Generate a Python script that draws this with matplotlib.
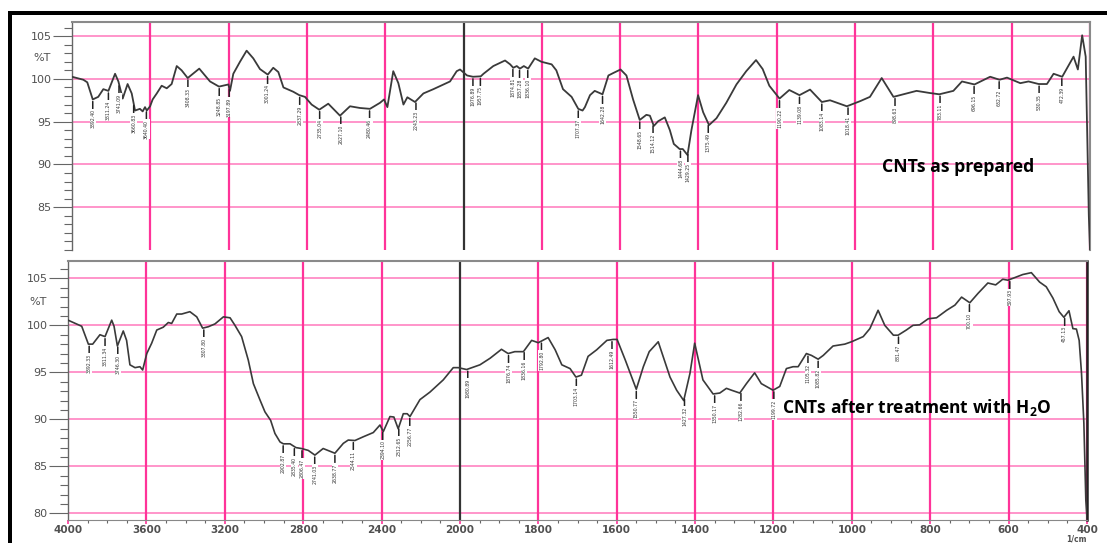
import numpy as np
import matplotlib
matplotlib.use("Agg")
import matplotlib.pyplot as plt
from matplotlib.patches import Rectangle

plt.rcParams['mathtext.fontset'] = 'custom'
plt.rcParams['mathtext.rm'] = 'Open Sans:bold'

# ---------------- data ----------------
top_wn = [4000, 3942, 3922, 3894, 3866, 3840, 3814, 3780, 3763, 3741, 3716, 3695, 3678, 3653, 3639,
          3627, 3618, 3601, 3588, 3567, 3542, 3516, 3491, 3465, 3440, 3409, 3350, 3295, 3249, 3201,
          3193, 3176, 3142, 3108, 3074, 3040, 3000, 2972, 2946, 2920, 2870, 2839, 2810, 2776, 2737,
          2691, 2631, 2580, 2529, 2478, 2427, 2406, 2389, 2359, 2333, 2307, 2287, 2248, 2205, 2154,
          2069, 2035, 2018, 1991, 1976, 1956, 1949, 1924, 1894, 1881, 1873, 1864, 1856, 1846, 1835,
          1818, 1801, 1775, 1763, 1746, 1724, 1707, 1696, 1690, 1677, 1665, 1645, 1630, 1617, 1599,
          1584, 1567, 1550, 1533, 1524, 1514, 1503, 1486, 1473, 1463, 1448, 1440, 1428, 1418, 1401,
          1388, 1373, 1354, 1329, 1303, 1278, 1253, 1236, 1219, 1193, 1168, 1142, 1115, 1085, 1064,
          1021, 987, 962, 932, 902, 843, 809, 785, 749, 727, 695, 655, 631, 612, 578, 557, 531, 510,
          493, 471, 442, 431, 420, 411, 403, 400]
top_val = [100.25, 99.9, 99.6, 97.6, 97.9, 98.8, 98.6, 100.6, 99.7, 97.7, 99.4, 98.3, 96.3, 96.5, 96.2,
           96.7, 96.3, 96.8, 97.6, 98.3, 99.2, 98.9, 99.4, 101.5, 101.0, 100.1, 101.2, 99.7, 99.1, 99.35,
           98.6, 100.6, 102.0, 103.3, 102.4, 101.15, 100.5, 101.3, 100.8, 99.0, 98.5, 98.1, 97.9, 97.0, 96.4,
           97.1, 95.7, 96.8, 96.6, 96.5, 97.2, 97.6, 96.7, 100.9, 99.5, 97.0, 97.85, 97.3, 98.3, 98.8,
           99.7, 100.9, 101.1, 100.4, 100.25, 100.3, 100.6, 101.5, 102.15, 101.7, 101.3, 101.5, 101.2, 101.5, 101.2,
           102.4, 102.0, 101.7, 101.0, 98.8, 97.9, 96.5, 96.3, 96.7, 98.1, 98.6, 98.2, 100.4, 100.7, 101.1,
           100.4, 97.6, 95.2, 95.8, 95.7, 94.5, 95.05, 95.5, 94.0, 92.4, 91.8, 91.8, 91.1, 94.0, 98.1,
           96.1, 94.6, 95.4, 97.2, 99.35, 100.9, 102.2, 101.15, 99.2, 97.7, 98.7, 98.1, 98.75, 97.3, 97.5,
           96.8, 97.4, 97.9, 100.1, 97.9, 98.6, 98.35, 98.2, 98.6, 99.7, 99.35, 100.25, 99.9, 100.15, 99.5, 99.7, 99.4, 99.4,
           100.6, 100.25, 102.6, 101.1, 105.1, 102.6, 84.0, 80.0]

bot_wn = [4000, 3973, 3930, 3896, 3874, 3837, 3811, 3777, 3765, 3748, 3718, 3701, 3684, 3658, 3633,
          3619, 3598, 3573, 3547, 3514, 3488, 3471, 3445, 3420, 3378, 3343, 3313, 3284, 3250, 3207,
          3173, 3148, 3114, 3080, 3054, 3020, 2995, 2966, 2944, 2918, 2901, 2867, 2837, 2808, 2774,
          2740, 2698, 2638, 2595, 2570, 2536, 2493, 2442, 2408, 2391, 2357, 2337, 2315, 2289, 2269,
          2255, 2204, 2153, 2085, 2034, 2008, 1983, 1949, 1923, 1894, 1877, 1860, 1838, 1817, 1800,
          1775, 1757, 1740, 1719, 1704, 1690, 1673, 1651, 1625, 1609, 1599, 1578, 1550, 1532, 1517,
          1494, 1464, 1447, 1429, 1413, 1401, 1380, 1354, 1337, 1320, 1307, 1286, 1269, 1248, 1231,
          1201, 1184, 1167, 1150, 1137, 1116, 1103, 1086, 1073, 1048, 1018, 1001, 971, 954, 933,
          916, 894, 882, 861, 844, 827, 805, 784, 758, 737, 720, 699, 678, 653, 633,
          615, 602, 589, 564, 542, 521, 504, 487, 471, 459, 446, 436, 427, 420, 414,
          408, 403, 400]
bot_val = [100.55, 100.3, 99.9, 98.0, 98.0, 99.0, 98.8, 100.55, 99.9, 97.8, 99.4, 98.4, 95.8, 95.5, 95.6,
           95.25, 97.0, 98.1, 99.5, 99.8, 100.3, 100.2, 101.2, 101.2, 101.45, 100.9, 99.7, 99.85, 100.15, 100.9,
           100.8, 100.0, 98.8, 96.3, 93.8, 92.05, 90.8, 89.9, 88.5, 87.6, 87.4, 87.4, 87.0, 86.9, 86.7,
           86.2, 86.9, 86.4, 87.45, 87.8, 87.75, 88.15, 88.6, 89.4, 88.7, 90.3, 90.25, 89.0, 90.6, 90.6,
           90.3, 92.1, 92.9, 94.2, 95.5, 95.5, 95.3, 95.8, 96.5, 97.45, 97.0, 97.2, 97.2, 98.4, 98.15,
           98.7, 97.4, 95.8, 95.4, 94.5, 94.7, 96.7, 97.4, 98.4, 98.5, 98.5, 96.3, 93.2, 95.6, 97.2,
           98.25, 94.5, 93.1, 92.0, 94.9, 98.1, 94.2, 92.7, 92.8, 93.3, 93.1, 92.8, 93.8, 94.95, 93.8,
           93.1, 93.5, 95.4, 95.6, 95.6, 97.0, 96.8, 96.4, 96.8, 97.8, 98.0, 98.25, 98.8, 99.65, 101.6,
           100.0, 98.95, 98.95, 99.5, 100.0, 100.05, 100.7, 100.8, 101.6, 102.15, 103.0, 102.4, 103.4, 104.5, 104.3,
           104.9, 104.8, 105.0, 105.4, 105.6, 104.6, 104.1, 102.9, 101.45, 100.85, 101.55, 99.65, 99.6, 98.4, 94.9,
           89.6, 81.4, 79.5]

top_peak_wn = [3894, 3814, 3760, 3685, 3620, 3408, 3248, 3197, 3001, 2837, 2735, 2627, 2480, 2243,
               1976, 1957, 1874, 1857, 1836, 1707, 1645, 1550, 1516, 1446, 1427, 1375, 1193, 1142,
               1085, 1018, 898, 783, 696, 632, 530, 472]
top_peak_lbl = ['3892.40', '3811.24', '3741.09', '3660.83', '3640.40', '3408.33', '3248.85', '3197.89',
                '3001.24', '2837.29', '2735.04', '2627.10', '2480.46', '2243.23', '1976.89', '1957.75',
                '1874.81', '1857.28', '1836.10', '1707.37', '1642.28', '1548.65', '1514.12', '1444.68',
                '1429.25', '1375.49', '1190.22', '1139.08', '1083.14', '1018.41', '898.63', '783.11',
                '696.15', '632.72', '530.35', '472.39']

bot_peak_wn = [3892, 3811, 3746, 3307, 2902, 2845, 2806, 2741, 2638, 2544, 2394, 2312, 2256, 1980,
               1876, 1836, 1792, 1703, 1612, 1550, 1427, 1350, 1283, 1199, 1112, 1086, 881, 700,
               597, 457]
bot_peak_lbl = ['3892.33', '3811.34', '3746.30', '3307.80', '2902.87', '2835.40', '2806.47', '2741.03',
                '2638.77', '2544.11', '2394.10', '2312.65', '2256.77', '1980.89', '1876.74', '1836.16',
                '1792.80', '1703.14', '1612.49', '1550.77', '1427.32', '1350.17', '1282.66', '1199.72',
                '1105.32', '1085.82', '881.47', '700.10', '597.93', '457.13']

x_major = [4000, 3600, 3200, 2800, 2400, 2000, 1800, 1600, 1400, 1200, 1000, 800, 600, 400]
x_major_lbl = [str(v) for v in x_major]
y_major = [80, 85, 90, 95, 100, 105]

# ---------------- scale ----------------
def fwd(w):
    w = np.asarray(w, dtype=float)
    return np.where(w >= 2000, (w - 2000) / 400.0, (w - 2000) / 200.0)

def inv(p):
    p = np.asarray(p, dtype=float)
    return np.where(p >= 0, 2000 + 400.0 * p, 2000 + 200.0 * p)

W, H = 1107, 543
fig = plt.figure(figsize=(W / 100, H / 100), dpi=100)

ax1 = fig.add_axes([72 / W, 1 - 250 / H, 1018 / W, 228 / H])
ax2 = fig.add_axes([68 / W, 1 - 520 / H, 1019 / W, 259 / H])

VCOL = '#ff3399'
HCOL = '#ff8cc6'
TXT = '#505050'

for ax, ylim in ((ax1, (82.06, 106.65)), (ax2, (79.3, 106.84))):
    ax.set_xscale('function', functions=(fwd, inv))
    ax.set_xlim(4000, 400)
    ax.set_ylim(*ylim)
    for v in y_major:
        if ylim[0] < v < ylim[1]:
            ax.axhline(v, color=HCOL, lw=1.3, zorder=1)
    for w in x_major[1:]:
        ax.axvline(w, color=('#333333' if w == 2000 else VCOL), lw=1.6, zorder=1.5)
    ax.set_yticks([v for v in y_major if ylim[0] < v < ylim[1]])
    ax.set_yticks(np.arange(80, 107, 1), minor=True)
    ax.tick_params(axis='y', which='major', length=13.5, width=0.8, color='#666666',
                   labelsize=8, labelcolor=TXT, pad=1)
    ax.tick_params(axis='y', which='minor', length=6, width=0.8, color='#666666')
    ax.spines['top'].set_color('#8a8a8a')
    ax.spines['top'].set_linewidth(1.5)
    ax.spines['left'].set_color('#666666')
    ax.spines['left'].set_linewidth(1.0)
    ax.annotate('%T', xy=(0, 102.5), xycoords=('axes fraction', 'data'),
                xytext=(-21, 0), textcoords='offset pixels', ha='right', va='center',
                fontsize=8, color=TXT)

# top panel
ax1.spines['bottom'].set_visible(False)
ax1.spines['right'].set_color('#8a8a8a')
ax1.spines['right'].set_linewidth(1.5)
ax1.tick_params(axis='x', which='both', bottom=False, labelbottom=False)
ax1.plot(top_wn, top_val, color='#3a3a3a', lw=1.3, zorder=3)

# bottom panel
ax2.spines['bottom'].set_color('#888888')
ax2.spines['right'].set_color('#222222')
ax2.spines['right'].set_linewidth(1.8)
ax2.set_xticks(x_major)
ax2.set_xticklabels(x_major_lbl)
minor = list(np.arange(4000, 2000, -100)) + list(np.arange(2000, 399, -50))
ax2.set_xticks(minor, minor=True)
ax2.tick_params(axis='x', which='major', length=3, width=1.2, color=VCOL, labelsize=7.5,
                labelcolor=TXT, pad=0.5)
ax2.tick_params(axis='x', which='minor', length=2.5, width=0.8, color='#666666')
for lab in ax2.get_xticklabels():
    lab.set_fontweight('bold')
ax2.plot(bot_wn, bot_val, color='#3a3a3a', lw=1.2, zorder=3)
fig.text(1076 / W, 1 - 538.5 / H, '1/cm', ha='center', va='center', fontsize=5.5,
         fontweight='bold', color=TXT)

# peak labels
def add_labels(ax, wn, val, pwn, plbl):
    xs = np.array(wn[::-1], dtype=float)
    ys = np.array(val[::-1], dtype=float)
    for w, t in zip(pwn, plbl):
        yc = np.interp(w, xs, ys)
        ax.annotate(t, xy=(w, yc), xytext=(0, -10), textcoords='offset pixels',
                    rotation=90, ha='center', va='top', fontsize=3.3, color='#333333',
                    bbox=dict(boxstyle='square,pad=0.15', fc='white', ec='none'),
                    arrowprops=dict(arrowstyle='-', color='#222222', lw=1.1,
                                    shrinkA=0, shrinkB=1.5), zorder=4)

add_labels(ax1, top_wn, top_val, top_peak_wn, top_peak_lbl)
add_labels(ax2, bot_wn, bot_val, bot_peak_wn, bot_peak_lbl)

ax1.text(931, 89.7, 'CNTs as prepared', fontweight='bold', fontsize=12.7, family='Open Sans',
         ha='left', va='center', color='black', zorder=5)
ax2.text(1179, 91.3, 'CNTs after treatment with H$\\mathregular{_2}$O', fontweight='bold',
         fontsize=12.5, family='Open Sans', ha='left', va='center', color='black', zorder=5)

# outer document frame
fig.add_artist(Rectangle((8 / W, 0), 4 / W, (H - 11) / H, transform=fig.transFigure,
                         color='black', lw=0))
fig.add_artist(Rectangle((8 / W, 1 - 15 / H), (W - 8) / W, 4 / H, transform=fig.transFigure,
                         color='black', lw=0))

fig.savefig('out.png', dpi=100)
